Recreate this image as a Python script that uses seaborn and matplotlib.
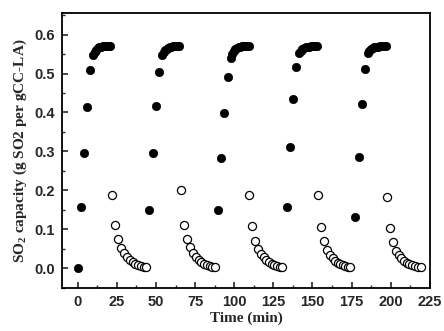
import matplotlib
matplotlib.use("Agg")
import matplotlib.pyplot as plt
import seaborn as sns
import pandas as pd
from matplotlib.ticker import MultipleLocator

# Adsorption (filled) data, per cycle
ads_t1 = [0, 1.9, 4.0, 6.0, 7.9, 9.7, 10.8, 11.8, 12.8, 13.8, 14.8, 15.8, 16.8, 17.8, 18.8, 19.8, 20.6]
ads_y1 = [0.000, 0.156, 0.296, 0.415, 0.508, 0.548, 0.556, 0.561, 0.565, 0.567, 0.569, 0.570, 0.571, 0.572, 0.572, 0.572, 0.572]
ads_t2 = [45.6, 47.8, 49.8, 51.9, 53.7, 54.8, 55.8, 56.8, 57.8, 58.8, 59.8, 60.8, 61.8, 62.8, 63.9, 65.0]
ads_y2 = [0.150, 0.296, 0.417, 0.505, 0.548, 0.555, 0.560, 0.564, 0.566, 0.568, 0.569, 0.570, 0.571, 0.571, 0.572, 0.572]
ads_t3 = [89.7, 91.8, 93.7, 95.8, 97.7, 98.8, 99.8, 100.8, 101.8, 102.8, 103.8, 104.8, 105.8, 106.8, 108.2, 109.6]
ads_y3 = [0.150, 0.283, 0.398, 0.490, 0.541, 0.550, 0.557, 0.562, 0.565, 0.567, 0.569, 0.570, 0.571, 0.571, 0.572, 0.572]
ads_t4 = [133.6, 135.5, 137.4, 139.5, 141.4, 142.5, 143.6, 144.7, 145.8, 146.9, 148.0, 149.1, 150.3, 151.6, 152.9]
ads_y4 = [0.157, 0.311, 0.435, 0.517, 0.553, 0.558, 0.562, 0.565, 0.567, 0.568, 0.569, 0.570, 0.570, 0.570, 0.570]
ads_t5 = [177.3, 179.6, 181.7, 183.5, 185.2, 186.3, 187.4, 188.5, 189.6, 190.7, 191.8, 192.9, 194.0, 195.5, 197.0]
ads_y5 = [0.131, 0.285, 0.422, 0.511, 0.553, 0.558, 0.562, 0.565, 0.567, 0.568, 0.569, 0.570, 0.570, 0.570, 0.570]

# Desorption (open) data, per cycle
des_t1 = [21.6, 23.9, 25.9, 27.7, 29.6, 31.4, 33.2, 35.0, 36.8, 38.6, 40.4, 42.2, 43.9]
des_y1 = [0.187, 0.111, 0.075, 0.052, 0.039, 0.029, 0.021, 0.015, 0.011, 0.008, 0.005, 0.003, 0.002]
des_t2 = [65.9, 67.8, 69.7, 71.9, 73.7, 75.4, 77.2, 79.0, 80.7, 82.5, 84.3, 86.0, 87.8]
des_y2 = [0.201, 0.111, 0.076, 0.054, 0.040, 0.030, 0.022, 0.016, 0.012, 0.008, 0.006, 0.004, 0.002]
des_t3 = [109.6, 111.5, 113.4, 115.3, 117.1, 118.9, 120.6, 122.3, 124.0, 125.7, 127.4, 129.0, 130.6]
des_y3 = [0.187, 0.109, 0.071, 0.050, 0.037, 0.028, 0.020, 0.015, 0.011, 0.008, 0.005, 0.003, 0.002]
des_t4 = [153.6, 155.5, 157.6, 159.5, 161.3, 163.0, 164.7, 166.3, 167.9, 169.5, 171.0, 172.6, 174.1]
des_y4 = [0.187, 0.105, 0.070, 0.047, 0.035, 0.026, 0.019, 0.014, 0.010, 0.007, 0.005, 0.003, 0.002]
des_t5 = [197.4, 199.3, 201.2, 203.3, 205.1, 206.9, 208.6, 210.3, 212.0, 213.7, 215.3, 217.4, 219.5]
des_y5 = [0.182, 0.103, 0.066, 0.044, 0.033, 0.025, 0.018, 0.013, 0.010, 0.007, 0.005, 0.003, 0.002]

x_ticks = [0, 25, 50, 75, 100, 125, 150, 175, 200, 225]
y_ticks = [0.0, 0.1, 0.2, 0.3, 0.4, 0.5, 0.6]

ads = pd.DataFrame({
    "t": ads_t1 + ads_t2 + ads_t3 + ads_t4 + ads_t5,
    "y": ads_y1 + ads_y2 + ads_y3 + ads_y4 + ads_y5,
})
des = pd.DataFrame({
    "t": des_t1 + des_t2 + des_t3 + des_t4 + des_t5,
    "y": des_y1 + des_y2 + des_y3 + des_y4 + des_y5,
})

sns.set_theme(style="ticks")
plt.rcParams['font.family'] = ['Liberation Sans', 'DejaVu Sans']
plt.rcParams['mathtext.fontset'] = 'custom'
plt.rcParams['mathtext.rm'] = 'Liberation Serif'
plt.rcParams['mathtext.bf'] = 'Liberation Serif:bold'

fig = plt.figure(figsize=(4.44, 3.31), dpi=100)
ax = fig.add_axes([0.140, 0.131, 0.828, 0.829])

sns.scatterplot(data=ads, x="t", y="y", ax=ax, s=36, color="black",
                edgecolor="black", linewidth=0.5, zorder=3)
sns.scatterplot(data=des, x="t", y="y", ax=ax, s=34, facecolor="white",
                edgecolor="black", linewidth=0.9, zorder=3)

ax.set_xlim(-10, 225)
ax.set_ylim(-0.05, 0.655)
ax.set_xticks(x_ticks)
ax.set_yticks(y_ticks)
ax.set_xticklabels([str(v) for v in x_ticks])
ax.set_yticklabels([f"{v:.1f}" for v in y_ticks])
ax.xaxis.set_minor_locator(MultipleLocator(12.5))
ax.yaxis.set_minor_locator(MultipleLocator(0.05))

ax.tick_params(axis="both", which="major", direction="in", length=4, width=1.2,
               labelsize=10.5, top=False, right=False, pad=5)
ax.tick_params(axis="both", which="minor", direction="in", length=2.5, width=1.0,
               top=False, right=False)
for lbl in ax.get_xticklabels() + ax.get_yticklabels():
    lbl.set_fontweight("bold")

for sp in ax.spines.values():
    sp.set_linewidth(1.3)
    sp.set_color("black")

ax.set_xlabel("Time (min)", fontfamily=["Liberation Serif", "DejaVu Serif"],
              fontweight="bold", fontsize=11, labelpad=2)
ax.set_ylabel("SO$_{\\mathbf{2}}$ capacity (g SO2 per gCC-LA)",
              fontfamily=["Liberation Serif", "DejaVu Serif"],
              fontweight="bold", fontsize=11, labelpad=4)

fig.savefig("out.png", dpi=100)
